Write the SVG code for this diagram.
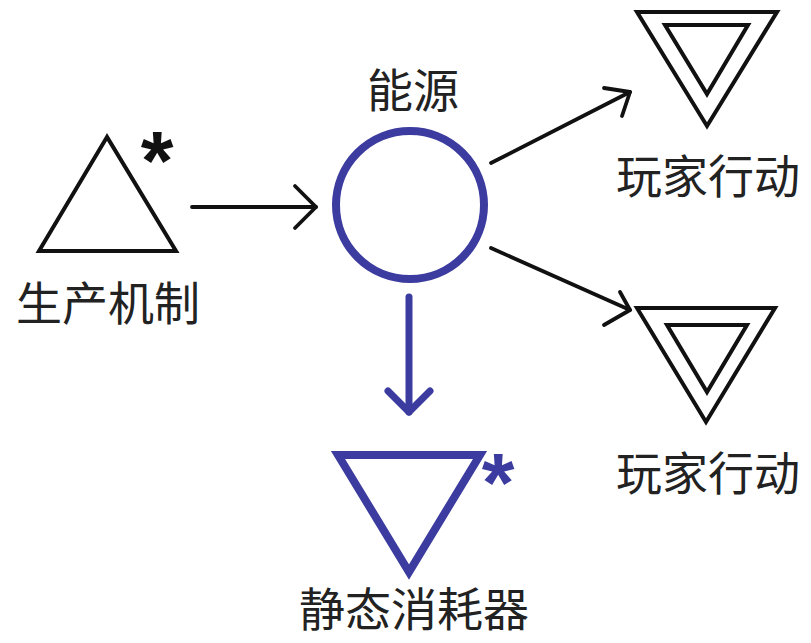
<svg xmlns="http://www.w3.org/2000/svg" width="811" height="643" viewBox="0 0 811 643">
<style>
.lbl{font-family:"Noto Sans CJK SC","Noto Sans CJK JP",sans-serif;font-size:46px;fill:#222;text-anchor:middle}
.star{font-family:"Liberation Sans",Arial,sans-serif;font-weight:bold;font-size:84px;text-anchor:middle}
.blk{fill:none;stroke:#111;stroke-width:4;stroke-linejoin:miter}
.blu{fill:none;stroke:#3c3ca0;stroke-width:8}
.conn{fill:none;stroke:#111;stroke-width:3.8;stroke-linecap:round;stroke-linejoin:round}
.connb{fill:none;stroke:#3c3ca0;stroke-width:7;stroke-linecap:round;stroke-linejoin:round}
</style>
<rect width="811" height="643" fill="#fff"/>
<g id="production">
<polygon class="blk" points="107,137 39,251 176,251"/>
<text class="star" x="157" y="190" fill="#111">*</text>
<text class="lbl" x="108" y="320">生产机制</text>
</g>
<g id="energy">
<circle class="blu" cx="410" cy="205" r="74"/>
<text class="lbl" x="413" y="107">能源</text>
</g>
<g id="player1">
<polygon class="blk" points="637,12 777,12 707,126"/>
<polygon class="blk" points="665,25 748,25 707,94"/>
<text class="lbl" x="708" y="193">玩家行动</text>
</g>
<g id="player2">
<polygon class="blk" points="637,308 775,308 706,422"/>
<polygon class="blk" points="667,325 747,325 707,392"/>
<text class="lbl" x="708" y="490">玩家行动</text>
</g>
<g id="drain">
<polygon class="blu" points="338,455 480,455 409,572"/>
<text class="star" x="498" y="512" fill="#3c3ca0">*</text>
<text class="lbl" x="414" y="626">静态消耗器</text>
</g>
<g id="connectors">
<line class="conn" x1="192" y1="207" x2="316" y2="207"/>
<polyline class="conn" points="295,186 316,207 295,228"/>
<line class="conn" x1="491" y1="163" x2="630" y2="92"/>
<polyline class="conn" points="604,88 630,92 622,116"/>
<line class="conn" x1="491" y1="248" x2="630" y2="310"/>
<polyline class="conn" points="620,292 630,310 604,325"/>
<line class="connb" x1="409" y1="297" x2="409" y2="412"/>
<polyline class="connb" points="388,391 409,412 430,391"/>
</g>
</svg>
